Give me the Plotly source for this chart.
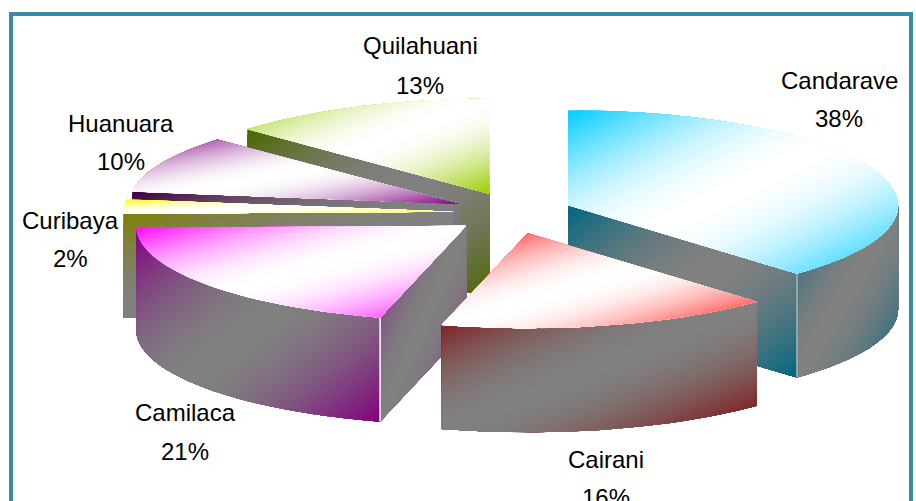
import math
import plotly.graph_objects as go

# Data (shares in percent, labels as printed)
categories = ["Candarave", "Cairani", "Camilaca", "Curibaya", "Huanuara", "Quilahuani"]
values = [37.8, 16.4, 20.5, 2.4, 9.8, 13.1]
percent_labels = ["38%", "16%", "21%", "2%", "10%", "13%"]

# Styles
base_colors = [(0, 204, 255), (255, 0, 0), (255, 0, 255), (255, 255, 0), (128, 0, 128), (153, 204, 0)]
label_centers_x = [839, 606, 185, 70, 121, 420]
label_name_y = [80, 459, 412, 220, 123, 45]
label_pct_y = [118, 497, 451, 258, 161, 85]
draw_order = [5, 4, 3, 0, 2, 1]
seam_colors = ["#A8B4B8", None, "#FFFFFF", None, None, None]

# Projection of the pie
CX, CY = 513.0, 213.0
RX, RY = 330.0, 95.0
EXPLODE_X, EXPLODE_Y = 0.18, 0.22
DEPTH = 104.0
LEVELS = 64
GRAY = (128, 128, 128)
WHITE = (255, 255, 255)


def proj(ax, ay, ang):
    a = math.radians(ang)
    return (ax + RX * math.sin(a), ay - RY * math.cos(a))


def clip_min(poly, x0, y0, w, h, t):
    """Keep the part of poly whose gradient parameter is >= t."""
    def f(p):
        return ((p[0] - x0) / w + (p[1] - y0) / h) / 2 - t
    out = []
    n = len(poly)
    for i in range(n):
        a, b = poly[i], poly[(i + 1) % n]
        fa, fb = f(a), f(b)
        if fa >= 0:
            out.append(a)
        if (fa >= 0) != (fb >= 0):
            s = fa / (fa - fb)
            out.append((a[0] + s * (b[0] - a[0]), a[1] + s * (b[1] - a[1])))
    return out


def mix(c1, c2, s):
    return tuple(round(c1[k] + (c2[k] - c1[k]) * s) for k in range(3))


def add_face(fig, poly, edge, mid, name):
    xs = [p[0] for p in poly]
    ys = [p[1] for p in poly]
    x0, y0 = min(xs), min(ys)
    w, h = max(max(xs) - x0, 1e-6), max(max(ys) - y0, 1e-6)
    for i in range(LEVELS):
        t = i / LEVELS
        part = clip_min(poly, x0, y0, w, h, t) if i else poly
        if len(part) < 3:
            continue
        tc = (i + 0.5) / LEVELS
        s = 1 - abs(2 * tc - 1)
        col = mix(edge, mid, math.sin(s * math.pi / 2))
        fig.add_trace(go.Scatter(
            x=[p[0] for p in part] + [part[0][0]],
            y=[p[1] for p in part] + [part[0][1]],
            mode="lines", fill="toself", line=dict(width=0),
            fillcolor="rgb(%d,%d,%d)" % col,
            hoverinfo="skip", showlegend=False, name=name,
        ))


fig = go.Figure()

total = sum(values)
starts = []
acc = 0.0
for v in values:
    starts.append(acc / total * 360.0)
    acc += v

for idx in draw_order:
    a0 = starts[idx]
    a1 = a0 + values[idx] / total * 360.0
    mid_a = math.radians((a0 + a1) / 2)
    ax = CX + EXPLODE_X * RX * math.sin(mid_a)
    ay = CY - EXPLODE_Y * RY * math.cos(mid_a)
    base = base_colors[idx]
    dark = tuple(c / 2 for c in base)
    nseg = max(4, int((a1 - a0) / 2))
    arc = [proj(ax, ay, a0 + (a1 - a0) * k / nseg) for k in range(nseg + 1)]
    name = categories[idx]

    # side walls along the radial edges, only when they face the viewer
    seam_pt = None
    if math.sin(math.radians(a0)) < 0:
        pt = arc[0]
        add_face(fig, [(ax, ay), pt, (pt[0], pt[1] + DEPTH), (ax, ay + DEPTH)], dark, GRAY, name)
        seam_pt = pt
    if math.sin(math.radians(a1)) > 0:
        pt = arc[-1]
        add_face(fig, [(ax, ay), pt, (pt[0], pt[1] + DEPTH), (ax, ay + DEPTH)], dark, GRAY, name)
        seam_pt = pt

    # outer wall, only the part of the rim that faces the viewer
    f0, f1 = max(a0, 90.0), min(a1, 270.0)
    if f1 > f0:
        n2 = max(4, int((f1 - f0) / 2))
        rim = [proj(ax, ay, f0 + (f1 - f0) * k / n2) for k in range(n2 + 1)]
        low = [(p[0], p[1] + DEPTH) for p in reversed(rim)]
        add_face(fig, rim + low, dark, GRAY, name)

    # seam between rim and radial wall
    if seam_colors[idx] and seam_pt:
        fig.add_trace(go.Scatter(
            x=[seam_pt[0], seam_pt[0]], y=[seam_pt[1], seam_pt[1] + DEPTH],
            mode="lines", line=dict(color=seam_colors[idx], width=1.5),
            hoverinfo="skip", showlegend=False, name=name,
        ))

    # top face
    add_face(fig, [(ax, ay)] + arc, base, WHITE, name)

annotations = []
for i, cat in enumerate(categories):
    annotations.append(dict(x=label_centers_x[i], y=label_name_y[i], text=cat, showarrow=False,
                            xref="x", yref="y", xanchor="center", yanchor="middle"))
    annotations.append(dict(x=label_centers_x[i], y=label_pct_y[i], text=percent_labels[i], showarrow=False,
                            xref="x", yref="y", xanchor="center", yanchor="middle"))

fig.update_layout(
    width=916, height=501,
    margin=dict(l=0, r=0, t=0, b=0),
    paper_bgcolor="white", plot_bgcolor="white",
    xaxis=dict(range=[0, 916], visible=False, fixedrange=True),
    yaxis=dict(range=[501, 0], visible=False, fixedrange=True),
    font=dict(family="Liberation Sans", size=24, color="black"),
    annotations=annotations,
    shapes=[dict(type="rect", xref="x", yref="y", x0=11, x1=911, y0=14, y1=530,
                 line=dict(color="#3B8BA5", width=4), fillcolor="rgba(0,0,0,0)", layer="above")],
)

fig.write_html("out.html", config=dict(displayModeBar=False),
               post_script="document.body.style.margin='0';document.documentElement.style.overflow='hidden';")
